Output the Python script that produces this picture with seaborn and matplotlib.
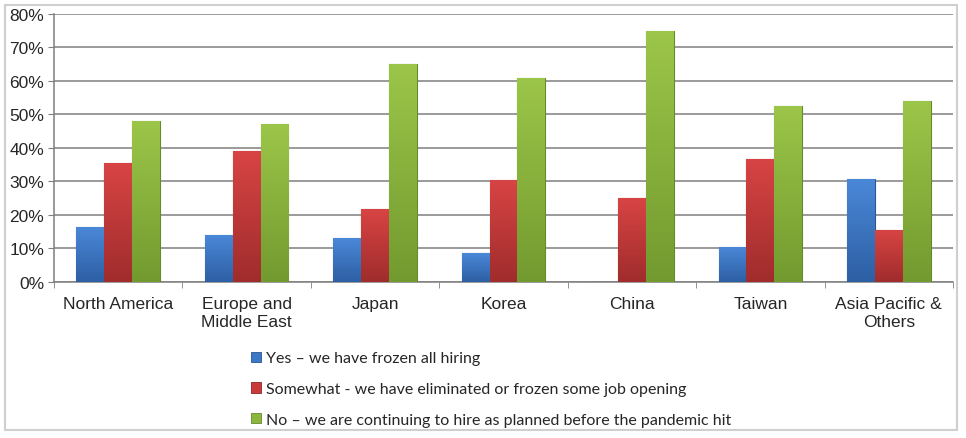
import numpy as np
import pandas as pd
import seaborn as sns
import matplotlib.pyplot as plt
from matplotlib.patches import Rectangle, Patch
from matplotlib.colors import LinearSegmentedColormap
from matplotlib.ticker import FuncFormatter, FixedLocator

# Survey data (share of respondents, %)
regions = ["North America", "Europe and\nMiddle East", "Japan", "Korea",
           "China", "Taiwan", "Asia Pacific &\nOthers"]
responses = ["Yes \u2013 we have frozen all hiring",
             "Somewhat - we have eliminated or frozen some job opening",
             "No \u2013 we are continuing to hire as planned before the pandemic hit"]
yes_frozen = [16.3, 13.9, 13.1, 8.6, 0.0, 10.5, 30.7]
somewhat = [35.5, 39.0, 21.6, 30.3, 24.9, 36.8, 15.5]
no_hiring = [47.9, 47.2, 65.2, 61.0, 75.0, 52.6, 53.9]
colors = ["#3b78c6", "#c93a3a", "#8cb63e"]
tops = ["#4a88d8", "#d84444", "#9cc649"]
bottoms = ["#2d5fa3", "#a02c2c", "#729a2f"]
edges = ["#2a5590", "#8e2525", "#66892a"]

df = pd.DataFrame({"Region": regions * 3,
                   "Response": [responses[0]] * 7 + [responses[1]] * 7 + [responses[2]] * 7,
                   "Share": yes_frozen + somewhat + no_hiring})

sns.set_style("white")
plt.rcParams['font.family'] = ['Liberation Sans', 'DejaVu Sans']

fig = plt.figure(figsize=(9.66, 4.39), dpi=100)
ax = fig.add_axes([54 / 966, 1 - 282.7 / 439, (953 - 54) / 966, (282.7 - 15) / 439])

sns.barplot(data=df, x="Region", y="Share", hue="Response", palette=colors,
            width=0.65, saturation=1, ax=ax, legend=False, zorder=3,
            linewidth=0.8)

ax.set_ylim(0, 80)
ax.set_xlim(-0.5, 6.5)

# vertical gradient fill for each bar
grad = np.linspace(1, 0, 256).reshape(-1, 1)
for i, cont in enumerate(ax.containers):
    cmap = LinearSegmentedColormap.from_list(f"g{i}", [bottoms[i], tops[i]])
    for bar in cont:
        bar.set_edgecolor(edges[i])
        h = bar.get_height()
        if h <= 0:
            continue
        x0 = bar.get_x()
        w = bar.get_width()
        im = ax.imshow(grad, cmap=cmap, aspect="auto", extent=(x0, x0 + w, 0, h),
                       zorder=3.5, origin="upper")
        im.set_clip_path(bar)

ax.set_xlim(-0.5, 6.5)
ax.set_ylim(0, 80)
ax.set_yticks(range(0, 81, 10))
ax.yaxis.set_major_formatter(FuncFormatter(lambda v, p: f"{int(v)}%"))
ax.grid(axis="y", color="#7f7f7f", linewidth=1.1, zorder=0)
ax.set_axisbelow(True)
ax.set_xlabel("")
ax.set_ylabel("")

for s in ["top", "right"]:
    ax.spines[s].set_visible(False)
for s in ["left", "bottom"]:
    ax.spines[s].set_color("#7f7f7f")
    ax.spines[s].set_linewidth(1.1)

ax.tick_params(axis="y", length=4, color="#7f7f7f", labelsize=12.5, pad=3, left=True)
ax.tick_params(axis="x", which="major", length=0, labelsize=12.5, pad=10)
ax.xaxis.set_minor_locator(FixedLocator([i - 0.5 for i in range(8)]))
ax.tick_params(axis="x", which="minor", length=4, color="#7f7f7f", bottom=True)
for t in ax.get_xticklabels():
    t.set_linespacing(1.3)

# legend below the plot
handles = [Patch(facecolor=c, edgecolor=e, linewidth=0.6) for c, e in zip(colors, edges)]
fig.legend(handles, responses, loc="upper left", bbox_to_anchor=(237 / 966, 1 - 338 / 439),
           frameon=False, handlelength=0.6, handleheight=0.6, handletextpad=0.3,
           labelspacing=1.05, prop={"family": ["Lato", "DejaVu Sans"], "size": 11.5})

# outer frame
fig.patches.append(Rectangle((5 / 966, 8 / 439), 952 / 966, 425 / 439,
                             transform=fig.transFigure, fill=False,
                             edgecolor="#cfcfcf", linewidth=1.5))

fig.savefig("out.png", dpi=100)
